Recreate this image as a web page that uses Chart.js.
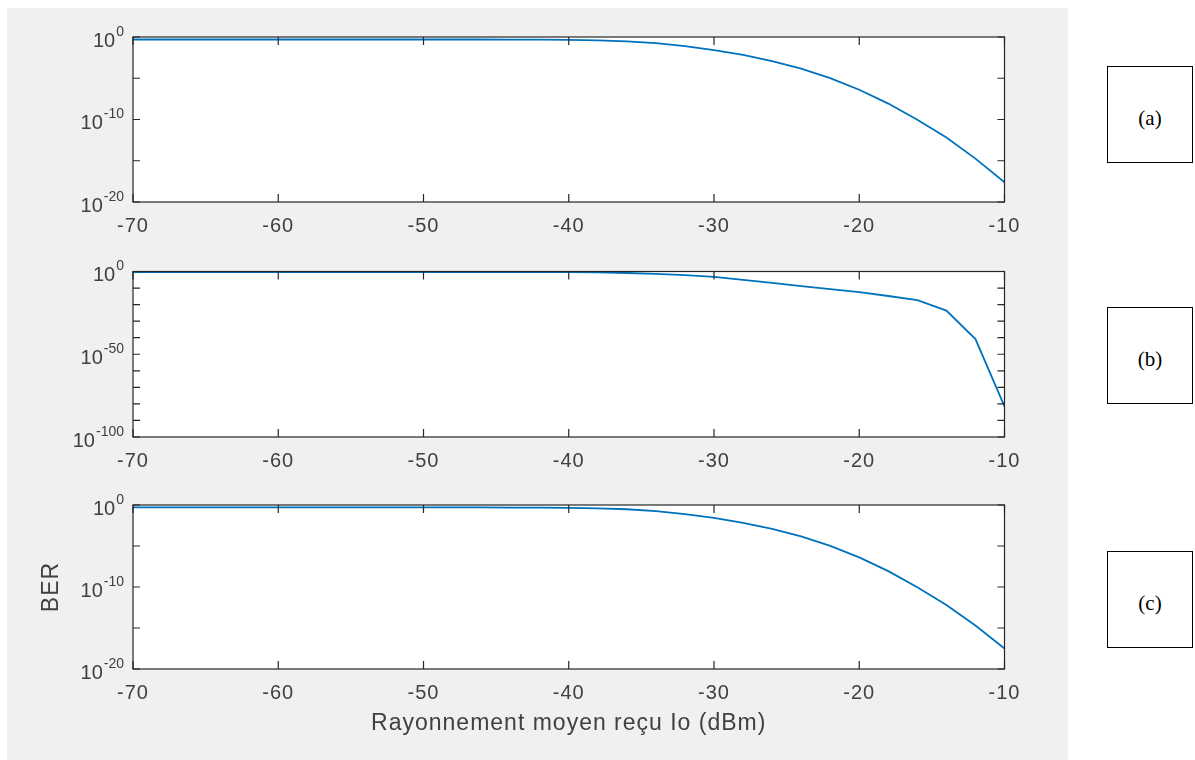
<!DOCTYPE html>
<html>
<head>
<meta charset="utf-8">
<title>BER</title>
<script src="https://cdn.jsdelivr.net/npm/chart.js@4.4.1/dist/chart.umd.min.js"></script>
<style>
  body { margin: 0; background: #fff; width: 1195px; height: 760px; position: relative; overflow: hidden; }
  #fig { position: absolute; left: 7px; top: 8px; width: 1061px; height: 752px; background: #f0f0f0; }
  canvas.plot { position: absolute; left: 7px; }
  .tag {
    position: absolute; left: 1107px; width: 86px; height: 97px; box-sizing: border-box;
    border: 1.5px solid #000; background: #fff; padding-top: 8px;
    font-family: "Liberation Serif", "Times New Roman", serif; font-size: 21px; color: #000;
    display: flex; align-items: center; justify-content: center;
  }
</style>
</head>
<body>
<div id="fig"></div>
<canvas id="plotA" class="plot" width="1061" height="234" style="top:8px"></canvas>
<canvas id="plotB" class="plot" width="1061" height="235" style="top:242px"></canvas>
<canvas id="plotC" class="plot" width="1061" height="283" style="top:477px"></canvas>
<div class="tag" style="top:66px">(a)</div>
<div class="tag" style="top:307px">(b)</div>
<div class="tag" style="top:551px">(c)</div>

<script>
// received power (dBm)
const powerDbm = [-70, -68, -66, -64, -62, -60, -58, -56, -54, -52, -50, -48, -46, -44, -42,
                  -40, -38, -36, -34, -32, -30, -28, -26, -24, -22, -20, -18, -16, -14, -12, -10];

// BER, as log10 (decades)
const berExpA = [-0.30, -0.30, -0.30, -0.30, -0.30, -0.30, -0.30, -0.30, -0.30, -0.30, -0.30, -0.30, -0.30, -0.31, -0.32,
                 -0.34, -0.40, -0.52, -0.75, -1.10, -1.58, -2.18, -2.92, -3.84, -4.98, -6.39, -8.07, -10.02, -12.19, -14.74, -17.62];
const berExpB = [-0.30, -0.30, -0.30, -0.30, -0.30, -0.30, -0.30, -0.30, -0.30, -0.30, -0.30, -0.30, -0.30, -0.30, -0.31,
                 -0.35, -0.55, -0.9, -1.4, -2.2, -3.2, -5.0, -6.9, -8.8, -10.6, -12.4, -14.8, -17.3, -23.6, -40.8, -81.5];
const berExpC = [-0.30, -0.30, -0.30, -0.30, -0.30, -0.30, -0.30, -0.30, -0.30, -0.30, -0.30, -0.30, -0.30, -0.31, -0.32,
                 -0.34, -0.40, -0.52, -0.75, -1.10, -1.58, -2.18, -2.92, -3.84, -4.98, -6.39, -8.07, -10.02, -12.19, -14.70, -17.50];

// y ticks (decades) and which of them get a label
const yTicksA = [0, -5, -10, -15, -20];
const yLabelsA = [0, -10, -20];
const yTicksB = [0, -10, -20, -30, -40, -50, -60, -70, -80, -90, -100];
const yLabelsB = [0, -50, -100];

const xLabel = 'Rayonnement moyen reçu Io (dBm)';
const yLabel = 'BER';

const FONT = '"Liberation Sans", Arial, sans-serif';
const TXT = '#404040';
const AXC = '#262626';

// matlab-like box, inward ticks and 10^n labels
const matlabAxes = {
    id: 'matlabAxes',
    beforeDraw(chart) {
        const { ctx, chartArea: a } = chart;
        ctx.save();
        ctx.fillStyle = '#fff';
        ctx.fillRect(a.left, a.top, a.right - a.left, a.bottom - a.top);
        ctx.restore();
        ctx.letterSpacing = '1px';
    },
    afterDraw(chart, args, opts) {
        const { ctx, chartArea: a, scales: { x, y } } = chart;
        ctx.save();
        ctx.strokeStyle = AXC;
        ctx.lineWidth = 1.2;
        ctx.beginPath();
        x.ticks.forEach(t => {
            const px = x.getPixelForValue(t.value);
            ctx.moveTo(px, a.bottom); ctx.lineTo(px, a.bottom - 8);
            ctx.moveTo(px, a.top); ctx.lineTo(px, a.top + 8);
        });
        y.ticks.forEach(t => {
            const py = y.getPixelForValue(t.value);
            ctx.moveTo(a.left, py); ctx.lineTo(a.left + 7, py);
            ctx.moveTo(a.right, py); ctx.lineTo(a.right - 7, py);
        });
        ctx.stroke();
        ctx.strokeRect(a.left, a.top, a.right - a.left, a.bottom - a.top);

        ctx.fillStyle = TXT;
        ctx.textBaseline = 'middle';
        ctx.textAlign = 'left';
        ctx.letterSpacing = '0px';
        opts.labels.forEach(e => {
            const py = y.getPixelForValue(Math.pow(10, e));
            ctx.font = '20px ' + FONT;
            const wb = ctx.measureText('10').width;
            ctx.font = '14px ' + FONT;
            const we = ctx.measureText(String(e)).width;
            const x0 = a.left - 10 - wb - we;
            ctx.font = '20px ' + FONT;
            ctx.fillText('10', x0, py + 4);
            ctx.font = '14px ' + FONT;
            ctx.fillText(String(e), x0 + wb + 1, py - 5);
        });
        ctx.restore();
    }
};

function makePlot(id, berExp, yTicks, yLabels, padTop, xHeight, withTitles) {
    const ctx = document.getElementById(id).getContext('2d');
    const yMin = Math.pow(10, yTicks[yTicks.length - 1]);
    return new Chart(ctx, {
        type: 'line',
        data: {
            datasets: [{
                data: powerDbm.map((p, i) => ({ x: p, y: Math.pow(10, berExp[i]) })),
                borderColor: '#0072BD',
                borderWidth: 1.8,
                pointRadius: 0,
                tension: 0,
                fill: false
            }]
        },
        options: {
            responsive: false,
            animation: false,
            layout: { padding: { top: padTop, right: 63.5, bottom: 0, left: 0 } },
            plugins: {
                legend: { display: false },
                tooltip: { enabled: false },
                matlabAxes: { labels: yLabels }
            },
            scales: {
                x: {
                    type: 'linear',
                    min: -70,
                    max: -10,
                    grid: { display: false, drawTicks: false },
                    border: { display: false },
                    ticks: { stepSize: 10, padding: 12, color: TXT, font: { family: FONT, size: 20 } },
                    title: {
                        display: withTitles,
                        text: xLabel,
                        color: TXT,
                        font: { family: FONT, size: 23 },
                        padding: { top: 0, bottom: 23 }
                    },
                    afterFit: s => { s.height = xHeight; }
                },
                y: {
                    type: 'logarithmic',
                    min: yMin,
                    max: 1,
                    grid: { display: false, drawTicks: false },
                    border: { display: false },
                    ticks: { display: false },
                    title: {
                        display: withTitles,
                        text: yLabel,
                        color: TXT,
                        font: { family: FONT, size: 23 },
                        padding: { top: 31, bottom: 0 }
                    },
                    afterBuildTicks: s => { s.ticks = yTicks.map(e => ({ value: Math.pow(10, e) })); },
                    afterFit: s => { s.width = 126; }
                }
            }
        },
        plugins: [matlabAxes]
    });
}

makePlot('plotA', berExpA, yTicksA, yLabelsA, 29, 40, false);
makePlot('plotB', berExpB, yTicksB, yLabelsB, 29.5, 40, false);
makePlot('plotC', berExpC, yTicksA, yLabelsA, 28, 91, true);
</script>
</body>
</html>
